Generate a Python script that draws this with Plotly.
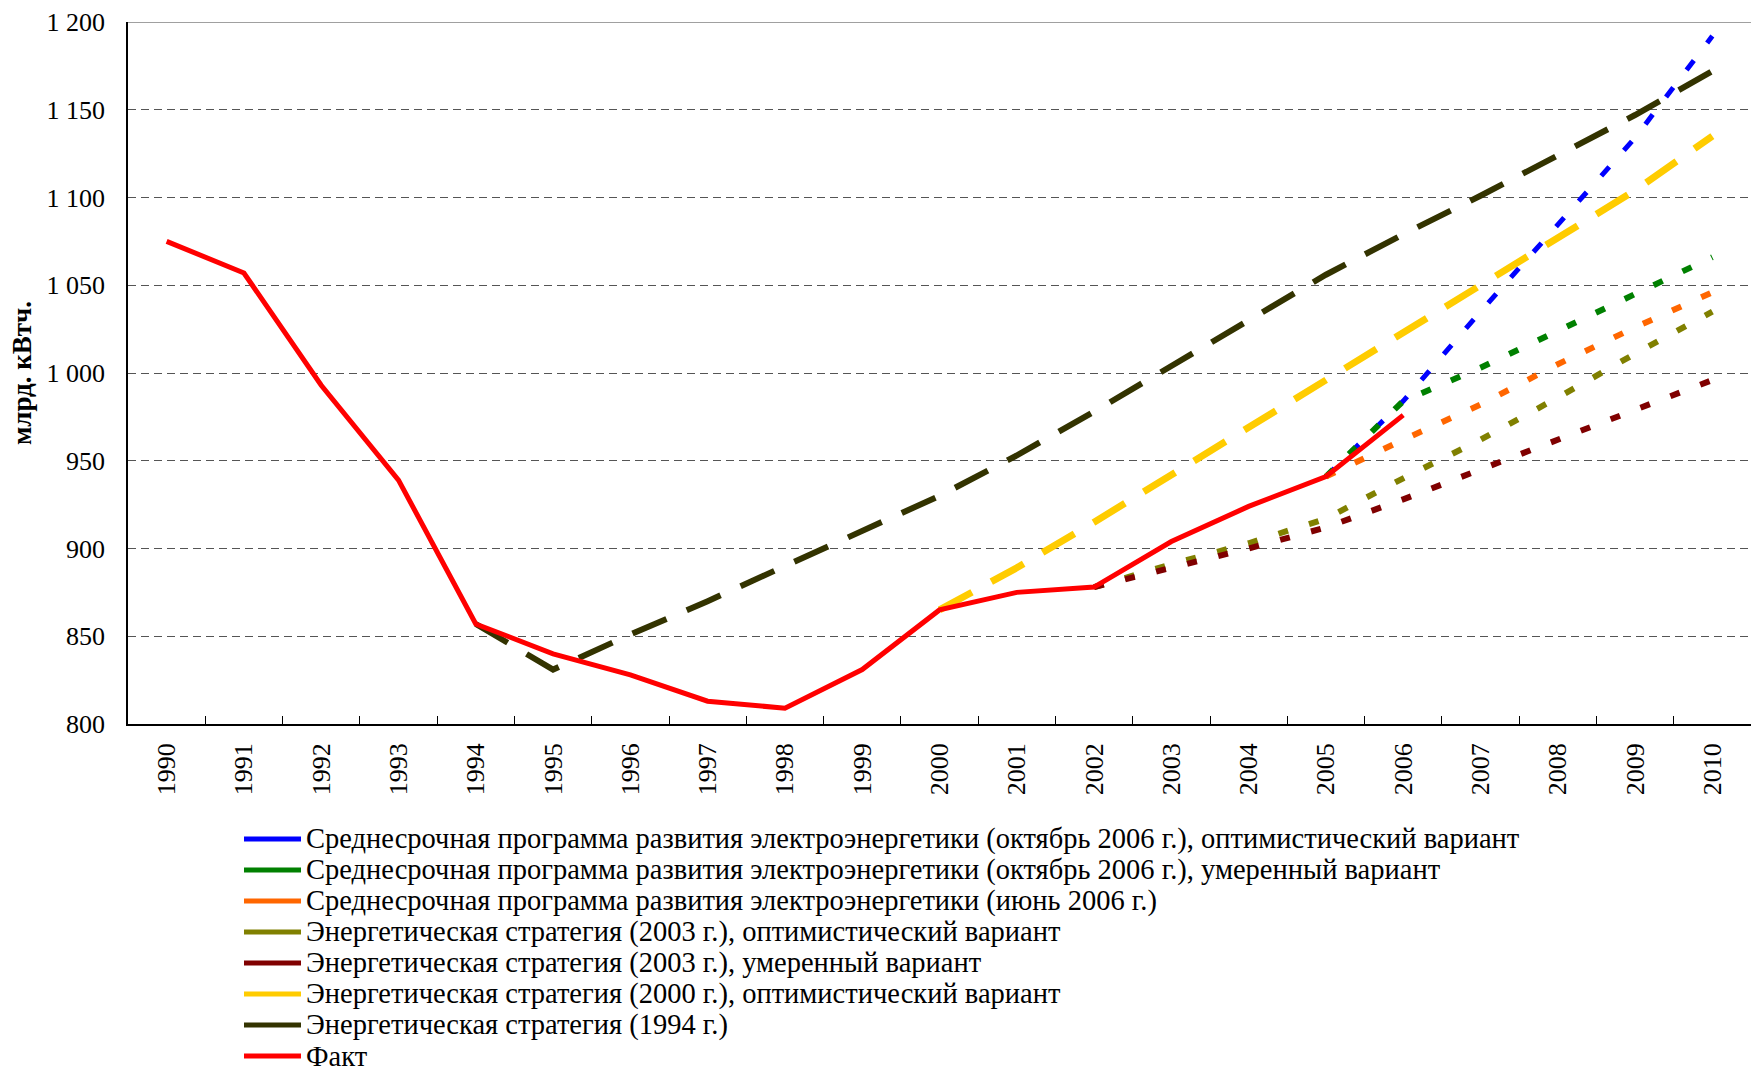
import plotly.graph_objects as go

years = [str(y) for y in range(1990, 2011)]

names = [
    "Среднесрочная программа развития электроэнергетики (октябрь 2006 г.), оптимистический вариант",
    "Среднесрочная программа развития электроэнергетики (октябрь 2006 г.), умеренный вариант",
    "Среднесрочная программа развития электроэнергетики (июнь 2006 г.)",
    "Энергетическая стратегия (2003 г.), оптимистический вариант",
    "Энергетическая стратегия (2003 г.), умеренный вариант",
    "Энергетическая стратегия (2000 г.), оптимистический вариант",
    "Энергетическая стратегия (1994 г.)",
    "Факт",
]

# first year of each series
start_years = ["2005", "2005", "2005", "2002", "2002", "2000", "1994", "1990"]

prog_oct2006_opt = [941, 984, 1035, 1085, 1134, 1192]
prog_oct2006_mod = [941, 984, 1003, 1024, 1045, 1066]
prog_jun2006 = [941, 962, 982, 1005, 1026, 1046]
strat2003_opt = [878, 891, 903, 917, 940, 962, 986, 1011, 1035]
strat2003_mod = [878, 889, 900, 912, 928, 945, 962, 979, 996]
strat2000_opt = [865, 889, 915, 942, 968, 995, 1022, 1050, 1077, 1104, 1135]
strat1994 = [857, 831, 851, 870, 890, 910, 930, 953, 978, 1004, 1030, 1056,
             1079, 1101, 1124, 1147, 1172]
fact = [1075, 1057, 993, 939, 857, 840, 828, 813, 809, 831, 865, 875, 878,
        904, 924, 941, 976]

series = [prog_oct2006_opt, prog_oct2006_mod, prog_jun2006, strat2003_opt,
          strat2003_mod, strat2000_opt, strat1994, fact]

colors = ["#0000FF", "#008000", "#FF6600", "#808000", "#800000", "#FFCC00",
          "#333300", "#FF0000"]
dashes = ["12px,22px", "10px,22px", "10px,22px", "10px,22px", "10px,22px",
          "37px,22px", "37px,22px", "solid"]
widths = [5, 6, 6, 6, 6, 7, 6, 5]

ytick_vals = [800, 850, 900, 950, 1000, 1050, 1100, 1150, 1200]
ytick_text = ["800", "850", "900", "950", "1 000", "1 050", "1 100", "1 150", "1 200"]

FONT = "Liberation Serif, Times New Roman, serif"

W, H = 1751, 1072
ML, MR, MT, MB = 128, 0, 22, 348
PW, PH = W - ML - MR, H - MT - MB


def px_to_paper(x, y):
    return (x - ML) / PW, (H - MB - y) / PH


fig = go.Figure()
for name, vals, sy, col, dash, w in zip(names, series, start_years, colors, dashes, widths):
    i0 = years.index(sy)
    xs = years[i0:i0 + len(vals)]
    fig.add_trace(go.Scatter(x=xs, y=vals, mode="lines", name=name,
                             line=dict(color=col, width=w, dash=dash),
                             showlegend=False, hoverinfo="x+y"))

shapes = [dict(type="line", xref="paper", yref="y", x0=0, x1=1, y0=1200, y1=1200,
               line=dict(color="#808080", width=1.5))]
annotations = []

# manual legend (solid line samples + text)
row0, row_gap = 839, 31.0
sym_x0, sym_x1, text_x = 244, 301, 305
for i, (name, col) in enumerate(zip(names, colors)):
    yc = row0 + i * row_gap
    ax0, ay = px_to_paper(sym_x0, yc)
    ax1, _ = px_to_paper(sym_x1, yc)
    tx, _ = px_to_paper(text_x, yc)
    shapes.append(dict(type="line", xref="paper", yref="paper", x0=ax0, x1=ax1,
                       y0=ay, y1=ay, line=dict(color=col, width=5)))
    annotations.append(dict(xref="paper", yref="paper", x=tx, y=ay, text=name,
                            showarrow=False, xanchor="left", yanchor="middle",
                            borderpad=0,
                            font=dict(family=FONT, size=28.5, color="black")))

fig.update_layout(
    width=W, height=H,
    margin=dict(l=ML, r=MR, t=MT, b=MB, autoexpand=False),
    paper_bgcolor="white", plot_bgcolor="white",
    font=dict(family=FONT, size=26, color="black"),
    showlegend=False,
    shapes=shapes, annotations=annotations,
    xaxis=dict(type="category", categoryorder="array", categoryarray=years,
               range=[-0.5, 20.5], tickangle=-90, tickson="boundaries",
               ticks="inside", ticklen=8, tickcolor="black", tickwidth=1,
               showline=True, linecolor="black", linewidth=1.5,
               showgrid=False, ticklabelstandoff=7, automargin=False,
               tickfont=dict(family=FONT, size=26)),
    yaxis=dict(range=[800, 1200], tickvals=ytick_vals, ticktext=ytick_text,
               showline=True, linecolor="black", linewidth=1.5,
               showgrid=True, gridcolor="#555555", gridwidth=1, griddash="8px,5px",
               ticks="", ticklabelstandoff=16, zeroline=False, automargin=False,
               tickfont=dict(family=FONT, size=26),
               title=dict(text="<b>млрд. кВтч.</b>", standoff=7,
                          font=dict(family=FONT, size=27))),
)

fig.write_html(
    "out.html",
    config={"displayModeBar": False},
    post_script="document.body.style.margin='0';document.body.style.padding='0';"
                "document.documentElement.style.overflow='hidden';",
)
